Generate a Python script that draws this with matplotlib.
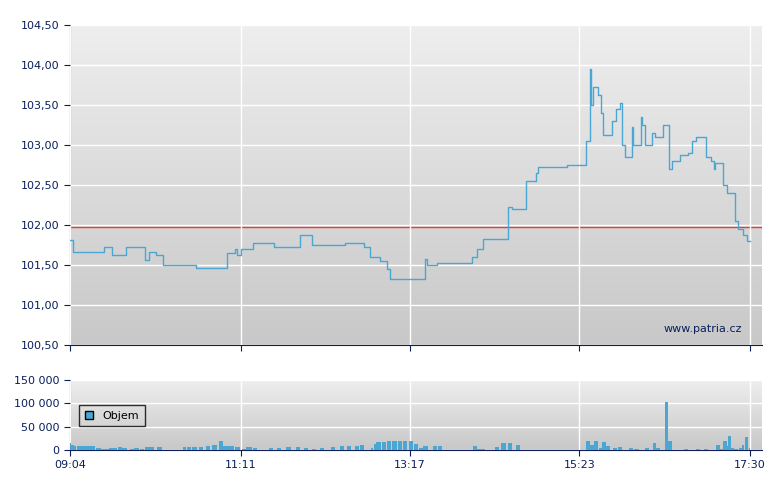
import matplotlib
matplotlib.use("Agg")
import matplotlib.pyplot as plt
import numpy as np

def tm(s):
    h, m = s.split(":"); return int(h) * 60 + int(m)

price_times = ["09:04","09:06","09:26","09:29","09:35","09:46","09:56","10:00","10:03","10:08","10:13","10:38","11:01","11:07","11:08","11:11","11:20","11:36","11:55","12:04","12:29","12:43","12:47","12:55","13:00","13:02","13:28","13:30","13:37","14:00","14:03","14:07","14:11","14:30","14:33","14:43","14:51","14:52","15:14","15:28","15:31","15:32","15:33","15:37","15:39","15:41","15:47","15:50","15:53","15:55","15:57","16:02","16:03","16:09","16:10","16:12","16:17","16:19","16:25","16:30","16:32","16:38","16:44","16:47","16:50","16:57","17:01","17:03","17:04","17:10","17:13","17:19","17:21","17:25","17:28","17:30"]
price_vals = [101.81,101.66,101.66,101.72,101.63,101.72,101.72,101.56,101.66,101.62,101.50,101.46,101.65,101.70,101.62,101.70,101.78,101.73,101.88,101.75,101.78,101.72,101.60,101.55,101.45,101.33,101.58,101.50,101.53,101.53,101.60,101.70,101.82,102.22,102.20,102.55,102.65,102.72,102.75,103.05,103.95,103.50,103.72,103.62,103.40,103.13,103.30,103.45,103.52,103.00,102.85,103.22,103.00,103.35,103.25,103.00,103.15,103.10,103.25,102.70,102.80,102.87,102.90,103.05,103.10,102.85,102.80,102.70,102.78,102.50,102.40,102.05,101.95,101.88,101.80,101.80]
ref_price = 101.97

vol_times = ["09:04","09:05","09:07","09:09","09:11","09:13","09:15","09:17","09:19","09:21","09:23","09:25","09:27","09:30","09:33","09:36","09:40","09:43","09:49","09:52","09:56","10:00","10:03","10:09","10:28","10:31","10:35","10:40","10:45","10:50","10:55","10:58","11:01","11:03","11:07","11:12","11:15","11:18","11:20","11:32","11:38","11:45","11:52","11:58","12:04","12:10","12:18","12:25","12:30","12:36","12:40","12:48","12:50","12:52","12:56","13:00","13:04","13:08","13:12","13:16","13:20","13:24","13:27","13:34","13:38","14:04","14:07","14:10","14:20","14:25","14:30","14:36","15:28","15:31","15:34","15:38","15:40","15:43","15:48","15:52","16:00","16:04","16:12","16:18","16:20","16:27","16:29","16:41","16:50","16:56","17:05","17:08","17:10","17:13","17:14","17:16","17:18","17:22","17:24","17:26","17:29"]
vol_vals = [15000,10000,9000,9000,9000,9000,9000,9000,9000,9000,5000,4000,3000,3000,5000,5000,7000,5000,3000,5000,2000,7000,7000,7000,7000,7000,7000,7000,9000,10000,20000,9000,9000,9000,7000,3000,7000,7000,5000,5000,5000,7000,7000,5000,3000,5000,7000,9000,9000,9000,10000,5000,12000,18000,18000,20000,20000,20000,20000,20000,12000,5000,9000,9000,9000,9000,3000,3000,7000,15000,15000,11000,20000,10000,20000,5000,17000,8000,4000,7000,4000,2000,4000,15000,4000,103000,20000,3000,3000,3000,10000,3000,20000,9000,31000,5000,3000,5000,11000,27000,4000]

navy = "#0a1f5c"
line_col = "#4aa7d4"
fig = plt.figure(figsize=(7.8, 4.9), dpi=100)
x0, x1 = tm("09:04"), tm("17:30") + 9
ticks = ["09:04", "11:11", "13:17", "15:23", "17:30"]

def style(ax, top, bot):
    grad = np.linspace(0, 1, 256).reshape(-1, 1)
    ax.imshow(grad, aspect="auto", cmap=matplotlib.colors.LinearSegmentedColormap.from_list("g", ["#eeeeee", "#c8c8c8"]),
              extent=[x0, x1, bot, top], origin="upper", zorder=0)
    ax.set_xlim(x0, x1); ax.set_ylim(bot, top)
    for s in ["top", "right"]:
        ax.spines[s].set_visible(False)
    for s in ["left", "bottom"]:
        ax.spines[s].set_color(navy)
    ax.set_xticks([tm(t) for t in ticks])
    ax.grid(True, color="white", lw=1, zorder=1)
    ax.tick_params(colors=navy, labelsize=8, length=4)
    ax.set_axisbelow(False)

ax = fig.add_axes([70/780, 145/490, 692/780, 320/490])
style(ax, 104.5, 100.5)
ax.set_yticks(np.arange(100.5, 104.51, 0.5))
ax.set_yticklabels([f"{v:.2f}".replace(".", ",") for v in np.arange(100.5, 104.51, 0.5)])
ax.set_xticklabels([])
ax.step([tm(t) for t in price_times], price_vals, where="post", color=line_col, lw=1, zorder=3)
ax.axhline(ref_price, color="#ff3030", lw=1, zorder=2)
ax.text(tm("17:30") - 6, 100.7, "www.patria.cz", color=navy, fontsize=8, ha="right", va="center")

av = fig.add_axes([70/780, 40/490, 692/780, 70/490])
style(av, 150000, 0)
av.set_yticks([0, 50000, 100000, 150000])
av.set_yticklabels(["0", "50 000", "100 000", "150 000"])
av.set_xticklabels(ticks)
vt = np.array([tm(t) for t in vol_times], dtype=float)
widths = np.minimum(np.diff(np.append(vt, vt[-1] + 1.5)), 3.5) * 0.9
av.bar(vt, vol_vals, width=widths, align="edge", color=line_col, zorder=3, label="Objem")
leg = av.legend(loc="upper left", bbox_to_anchor=(0.005, 0.72), fontsize=8, frameon=True, fancybox=False,
                handlelength=0.8, handleheight=0.8, borderpad=0.5)
leg.get_frame().set_edgecolor("black"); leg.get_frame().set_facecolor("none")
for p in leg.get_patches():
    p.set_edgecolor("black")
fig.savefig("out.png", dpi=100)
